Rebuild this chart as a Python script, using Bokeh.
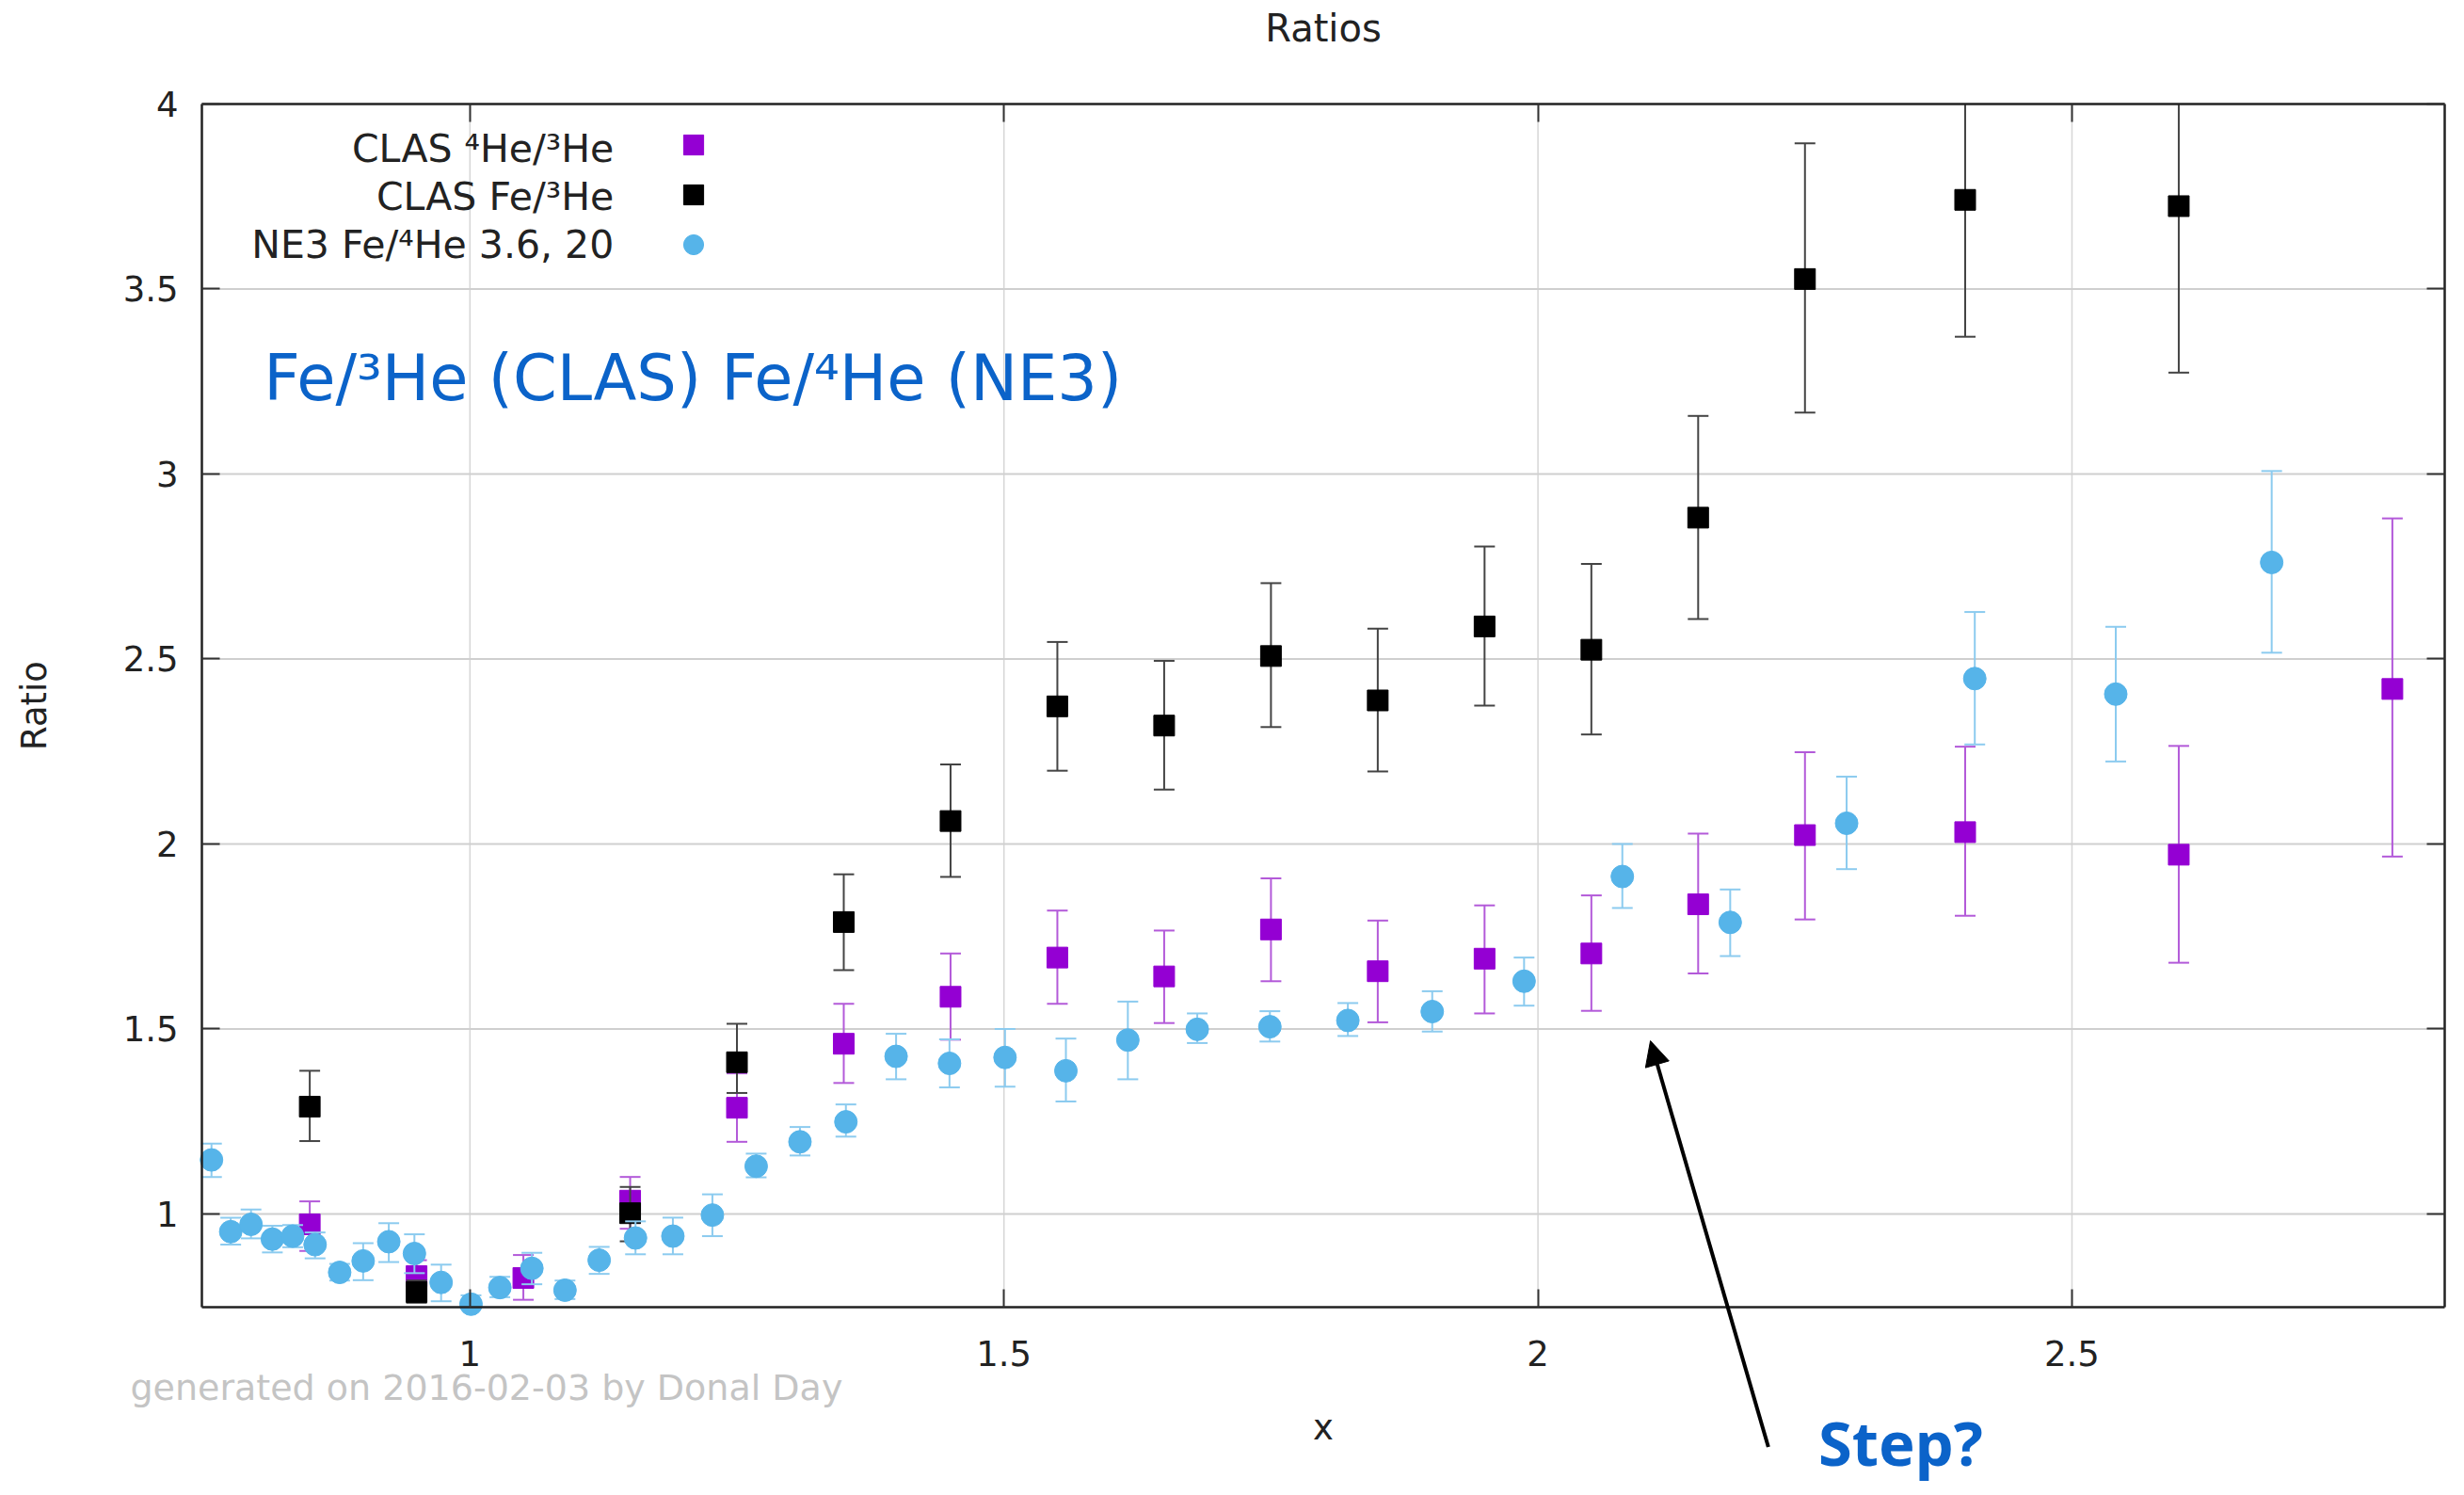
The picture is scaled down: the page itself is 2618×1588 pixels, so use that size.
from bokeh.plotting import figure
from bokeh.models import (Range1d, LinearAxis, Legend, LegendItem, Label, Arrow, NormalHead,
                          ColumnDataSource, FixedTicker, CustomJSTickFormatter)
from bokeh.embed import file_html
from bokeh.resources import INLINE

# ---------------- data ----------------
x_ticks = [1.0, 1.5, 2.0, 2.5]
y_ticks = [1.0, 1.5, 2.0, 2.5, 3.0, 3.5, 4.0]

# CLAS 4He/3He
he_x = [0.85, 0.95, 1.05, 1.15, 1.25, 1.35, 1.45, 1.55, 1.65, 1.75, 1.85, 1.95, 2.05, 2.15, 2.25, 2.40, 2.60, 2.80]
he_y = [0.972, 0.832, 0.827, 1.036, 1.287, 1.46, 1.587, 1.693, 1.642, 1.769, 1.656, 1.69, 1.704, 1.837, 2.024, 2.032, 1.971, 2.419]
he_lo = [0.90, 0.79, 0.768, 0.96, 1.195, 1.354, 1.471, 1.568, 1.516, 1.629, 1.518, 1.542, 1.549, 1.65, 1.796, 1.806, 1.679, 1.966]
he_hi = [1.034, 0.875, 0.889, 1.10, 1.38, 1.568, 1.704, 1.82, 1.766, 1.907, 1.793, 1.834, 1.861, 2.028, 2.248, 2.263, 2.265, 2.88]

# CLAS Fe/3He
fe_x = [0.85, 0.95, 1.15, 1.25, 1.35, 1.45, 1.55, 1.65, 1.75, 1.85, 1.95, 2.05, 2.15, 2.25, 2.40, 2.60]
fe_y = [1.29, 0.789, 1.002, 1.41, 1.789, 2.062, 2.372, 2.32, 2.508, 2.388, 2.588, 2.525, 2.882, 3.527, 3.741, 3.724]
fe_lo = [1.197, 0.76, 0.926, 1.327, 1.659, 1.911, 2.198, 2.147, 2.316, 2.196, 2.374, 2.296, 2.608, 3.166, 3.371, 3.274]
fe_hi = [1.387, 0.82, 1.073, 1.514, 1.918, 2.215, 2.546, 2.495, 2.705, 2.582, 2.804, 2.757, 3.157, 3.894, 4.10, 4.15]

# NE3 Fe/4He 3.6, 20
ne3_x = [0.758, 0.776, 0.795, 0.815, 0.834, 0.855, 0.878, 0.900, 0.924, 0.948,
         0.973, 1.001, 1.028, 1.058, 1.089, 1.121, 1.155, 1.190, 1.227, 1.268,
         1.309, 1.352, 1.399, 1.449, 1.501, 1.558, 1.616, 1.681, 1.749, 1.822,
         1.901, 1.987, 2.079, 2.180, 2.289, 2.409, 2.541, 2.687]
ne3_y = [1.146, 0.952, 0.972, 0.932, 0.94, 0.917, 0.842, 0.873, 0.925, 0.893,
         0.815, 0.756, 0.801, 0.853, 0.794, 0.875, 0.935, 0.94, 0.997, 1.129,
         1.195, 1.249, 1.426, 1.407, 1.423, 1.387, 1.47, 1.499, 1.506, 1.523,
         1.547, 1.629, 1.912, 1.788, 2.056, 2.447, 2.405, 2.761]
ne3_lo = [1.10, 0.917, 0.934, 0.896, 0.91, 0.88, 0.82, 0.821, 0.87, 0.84,
          0.764, 0.73, 0.775, 0.81, 0.77, 0.838, 0.891, 0.891, 0.94, 1.099,
          1.158, 1.209, 1.364, 1.342, 1.344, 1.304, 1.364, 1.462, 1.466, 1.481,
          1.493, 1.563, 1.827, 1.697, 1.932, 2.269, 2.223, 2.517]
ne3_hi = [1.19, 0.99, 1.012, 0.968, 0.97, 0.95, 0.865, 0.921, 0.975, 0.945,
          0.863, 0.78, 0.83, 0.895, 0.82, 0.911, 0.98, 0.99, 1.053, 1.163,
          1.235, 1.296, 1.487, 1.472, 1.50, 1.474, 1.574, 1.542, 1.548, 1.57,
          1.602, 1.693, 2.0, 1.877, 2.182, 2.627, 2.587, 3.008]

legend_labels = ["CLAS \u2074He/\u00b3He", "CLAS Fe/\u00b3He", "NE3 Fe/\u2074He 3.6, 20"]

# ---------------- layout constants ----------------
W, H = 2618, 1588
# plot box (pixels) and its data limits
BOX_L, BOX_R, BOX_T, BOX_B = 214, 2597, 110, 1388
X_MIN, X_MAX = 0.749, 2.849
Y_MIN, Y_MAX = 0.748, 4.0
sx = (X_MAX - X_MIN) / (BOX_R - BOX_L)
sy = (Y_MAX - Y_MIN) / (BOX_B - BOX_T)
x_range = Range1d(X_MIN - BOX_L * sx, X_MAX + (W - BOX_R) * sx)
y_range = Range1d(Y_MIN - (H - BOX_B) * sy, Y_MAX + BOX_T * sy)

FONT = "DejaVu Sans"
INK = "#222222"

p = figure(width=W, height=H, output_backend="svg", toolbar_location=None,
           x_range=x_range, y_range=y_range, x_axis_type=None, y_axis_type=None,
           title=None, min_border=0)
p.background_fill_color = "white"
p.border_fill_color = "white"
p.outline_line_color = None

fmt = CustomJSTickFormatter(code="return tick.toString()")
blank = CustomJSTickFormatter(code="return ''")


def make_axis(ticks, fixed, bounds, formatter, label=None):
    ax = LinearAxis(ticker=FixedTicker(ticks=ticks), formatter=formatter,
                    fixed_location=fixed, bounds=bounds,
                    major_tick_in=19, major_tick_out=0, minor_tick_line_color=None,
                    major_tick_line_color="#333333", major_tick_line_width=2,
                    axis_line_color=INK, axis_line_width=2.5,
                    major_label_text_font=FONT, major_label_text_font_size="37px",
                    major_label_text_color=INK)
    if label is not None:
        ax.axis_label = label
        ax.axis_label_text_font = FONT
        ax.axis_label_text_font_size = "37px"
        ax.axis_label_text_font_style = "normal"
        ax.axis_label_text_color = INK
    return ax


xax = make_axis(x_ticks, Y_MIN, (X_MIN, X_MAX), fmt, "x")
xax.major_label_standoff = 35
xax.axis_label_standoff = 41
p.add_layout(xax, "below")

yax = make_axis(y_ticks, X_MIN, (Y_MIN, Y_MAX), fmt, "Ratio")
yax.major_label_standoff = 25
yax.axis_label_standoff = 70
p.add_layout(yax, "left")

top_ax = make_axis(x_ticks, Y_MAX, (X_MIN, X_MAX), blank)
top_ax.major_label_standoff = 0
p.add_layout(top_ax, "above")
right_ax = make_axis(y_ticks, X_MAX, (Y_MIN, Y_MAX), blank)
right_ax.major_label_standoff = 0
p.add_layout(right_ax, "right")

# grid lines inside the plot box only
gx = [t for t in x_ticks if X_MIN < t < X_MAX]
gy = [t for t in y_ticks if Y_MIN < t < Y_MAX]
p.segment(x0=gx, y0=[Y_MIN] * len(gx), x1=gx, y1=[Y_MAX] * len(gx),
          line_color="#d6d6d6", line_width=1.5, level="underlay")
p.segment(x0=[X_MIN] * len(gy), y0=gy, x1=[X_MAX] * len(gy), y1=gy,
          line_color="#cfcfcf", line_width=2, level="underlay")


def add_series(x, y, lo, hi, color, bar_color, marker, size):
    # error bars are cut at the plot box like gnuplot does
    seg_lo = [max(v, Y_MIN) for v in lo]
    seg_hi = [min(v, Y_MAX) for v in hi]
    p.segment(x0=x, y0=seg_lo, x1=x, y1=seg_hi, line_color=bar_color, line_width=2)
    cx = [a for a, v in zip(x, lo) if v >= Y_MIN] + [a for a, v in zip(x, hi) if v <= Y_MAX]
    cy = [v for v in lo if v >= Y_MIN] + [v for v in hi if v <= Y_MAX]
    p.scatter(x=cx, y=cy, marker="dash", size=22, line_color=bar_color, line_width=2)
    src = ColumnDataSource(dict(x=x, y=y))
    return p.scatter(x="x", y="y", marker=marker, size=size, source=src,
                     fill_color=color, line_color=color)


r_he = add_series(he_x, he_y, he_lo, he_hi, "#9400d3", "#b35ad9", "square", 22)
r_fe = add_series(fe_x, fe_y, fe_lo, fe_hi, "#000000", "#444444", "square", 22)
r_ne = add_series(ne3_x, ne3_y, ne3_lo, ne3_hi, "#56b4e9", "#8ccbef", "circle", 24)

# legend: symbols to the right of right-aligned texts (gnuplot style)
legend = Legend(items=[LegendItem(label=" ", renderers=[r]) for r in (r_he, r_fe, r_ne)],
                location=(710, 1302), orientation="vertical",
                glyph_width=53, glyph_height=53, label_height=51, label_width=1,
                spacing=0, padding=0, margin=0, label_standoff=0,
                border_line_color=None, background_fill_alpha=0,
                label_text_font_size="10px")
p.add_layout(legend)
for txt, yy in zip(legend_labels, (3.879, 3.750, 3.619)):
    p.add_layout(Label(x=1.1348, y=yy, text=txt, text_align="right", text_baseline="alphabetic",
                       text_font=FONT, text_font_size="41px", text_color=INK))

# title
p.add_layout(Label(x=(X_MIN + X_MAX) / 2, y=4.2036, text="Ratios", text_align="center",
                   text_baseline="alphabetic", text_font=FONT, text_font_size="40px",
                   text_color=INK))

# annotations
p.add_layout(Label(x=0.807, y=3.258, text="Fe/\u00b3He (CLAS) Fe/\u2074He (NE3)",
                   text_align="left", text_baseline="alphabetic",
                   text_font=FONT, text_font_size="67px", text_color="#0b63c9"))
p.add_layout(Label(x=2.3395, y=0.382, text="Step?", text_align="center", text_baseline="alphabetic",
                   text_font="Noto Sans", text_font_size="65px", text_font_style="bold",
                   text_color="#0b63c9"))
p.add_layout(Label(x=0.682, y=0.531, text="generated on 2016-02-03 by Donal Day",
                   text_align="left", text_baseline="alphabetic",
                   text_font=FONT, text_font_size="38px", text_color="#c4c4c4"))
p.add_layout(Arrow(end=NormalHead(size=26, fill_color="black", line_color="black"),
                   x_start=2.2157, y_start=0.370, x_end=2.1053, y_end=1.468,
                   line_color="black", line_width=4))

open("out.html", "w").write(file_html(p, INLINE))
